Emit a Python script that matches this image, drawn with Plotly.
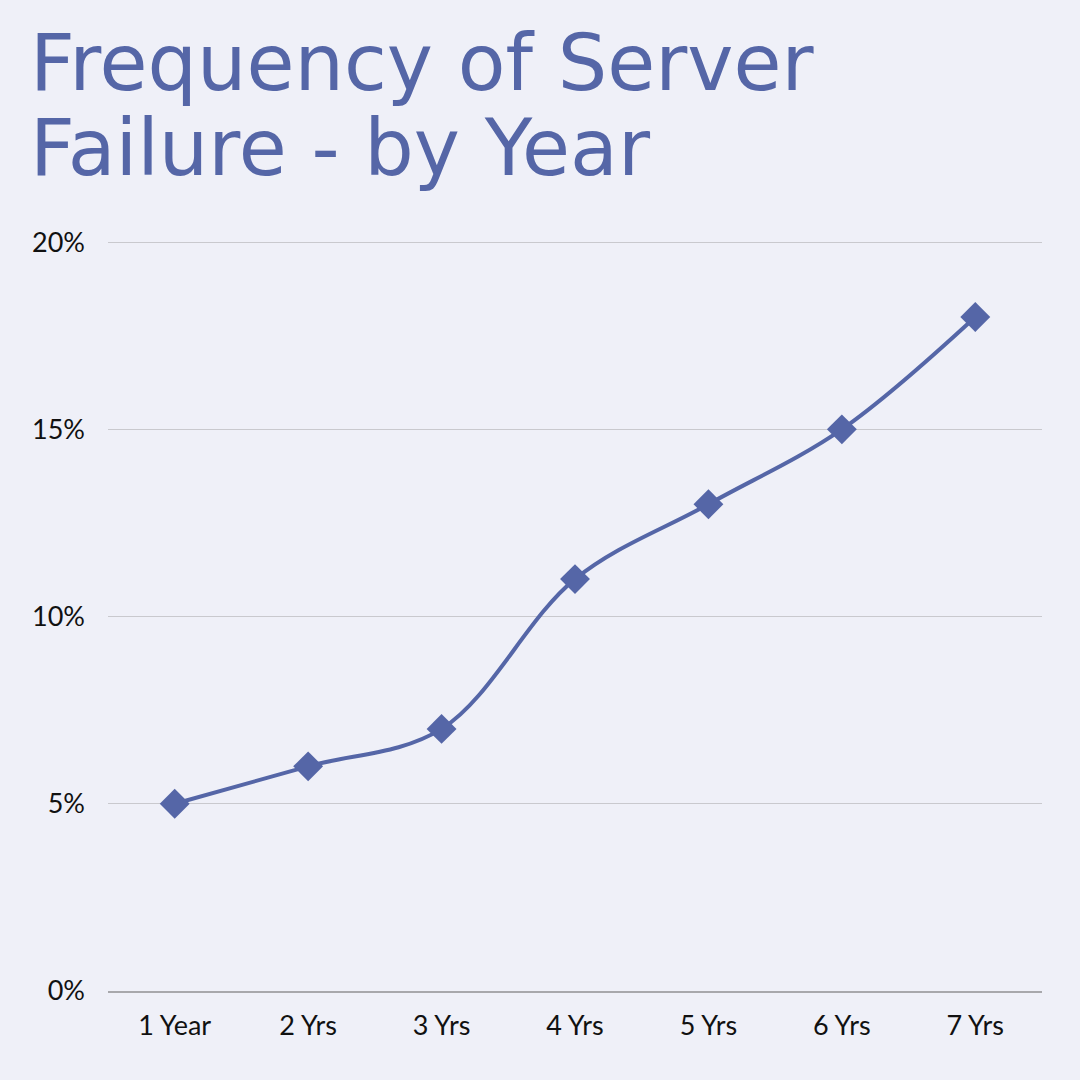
import plotly.graph_objects as go

categories = ["1 Year", "2 Yrs", "3 Yrs", "4 Yrs", "5 Yrs", "6 Yrs", "7 Yrs"]
failure_pct = [5, 6, 7, 11, 13, 15, 18]
y_ticks = [0, 5, 10, 15, 20]
y_tick_labels = [f"{v}%" for v in y_ticks]
title_lines = ["Frequency of Server", "Failure - by Year"]

COLOR = "#5566A7"
BG = "#EFF0F8"

fig = go.Figure()
fig.add_trace(go.Scatter(
    x=categories, y=failure_pct, mode="lines+markers",
    line=dict(color=COLOR, width=4, shape="spline", smoothing=1.0),
    marker=dict(symbol="diamond", size=23, color=COLOR),
    hoverinfo="skip", showlegend=False,
))

L, R, T, B = 108, 38, 242, 89
ph = 1080 - T - B

fig.update_layout(
    width=1080, height=1080,
    paper_bgcolor=BG, plot_bgcolor=BG,
    margin=dict(l=L, r=R, t=T - 1, b=B, pad=0),
    font=dict(family="Lato", size=27, color="#111111"),
    xaxis=dict(
        type="category", range=[-0.5, 6.5], showgrid=False,
        showline=True, linecolor="#A8A8AC", linewidth=2,
        ticks="", tickfont=dict(size=27), ticklabelstandoff=10,
        zeroline=False,
    ),
    yaxis=dict(
        range=[0, 20.03], tickvals=y_ticks, ticktext=y_tick_labels,
        showgrid=True, gridcolor="#C9C9CE", gridwidth=1,
        zeroline=False, showline=False, ticks="",
        tickfont=dict(size=27), ticklabelstandoff=22,
    ),
)

for line, baseline in zip(title_lines, [93, 178]):
    fig.add_annotation(
        text=line, xref="paper", yref="paper",
        x=(28 - L) / (1080 - L - R), y=(1080 - B - (baseline + 18)) / ph,
        xanchor="left", yanchor="bottom", showarrow=False,
        font=dict(family="DejaVu Sans", size=78, color=COLOR),
    )

fig.write_html("out.html", config={"displayModeBar": False},
               post_script="document.body.style.margin='0';")
